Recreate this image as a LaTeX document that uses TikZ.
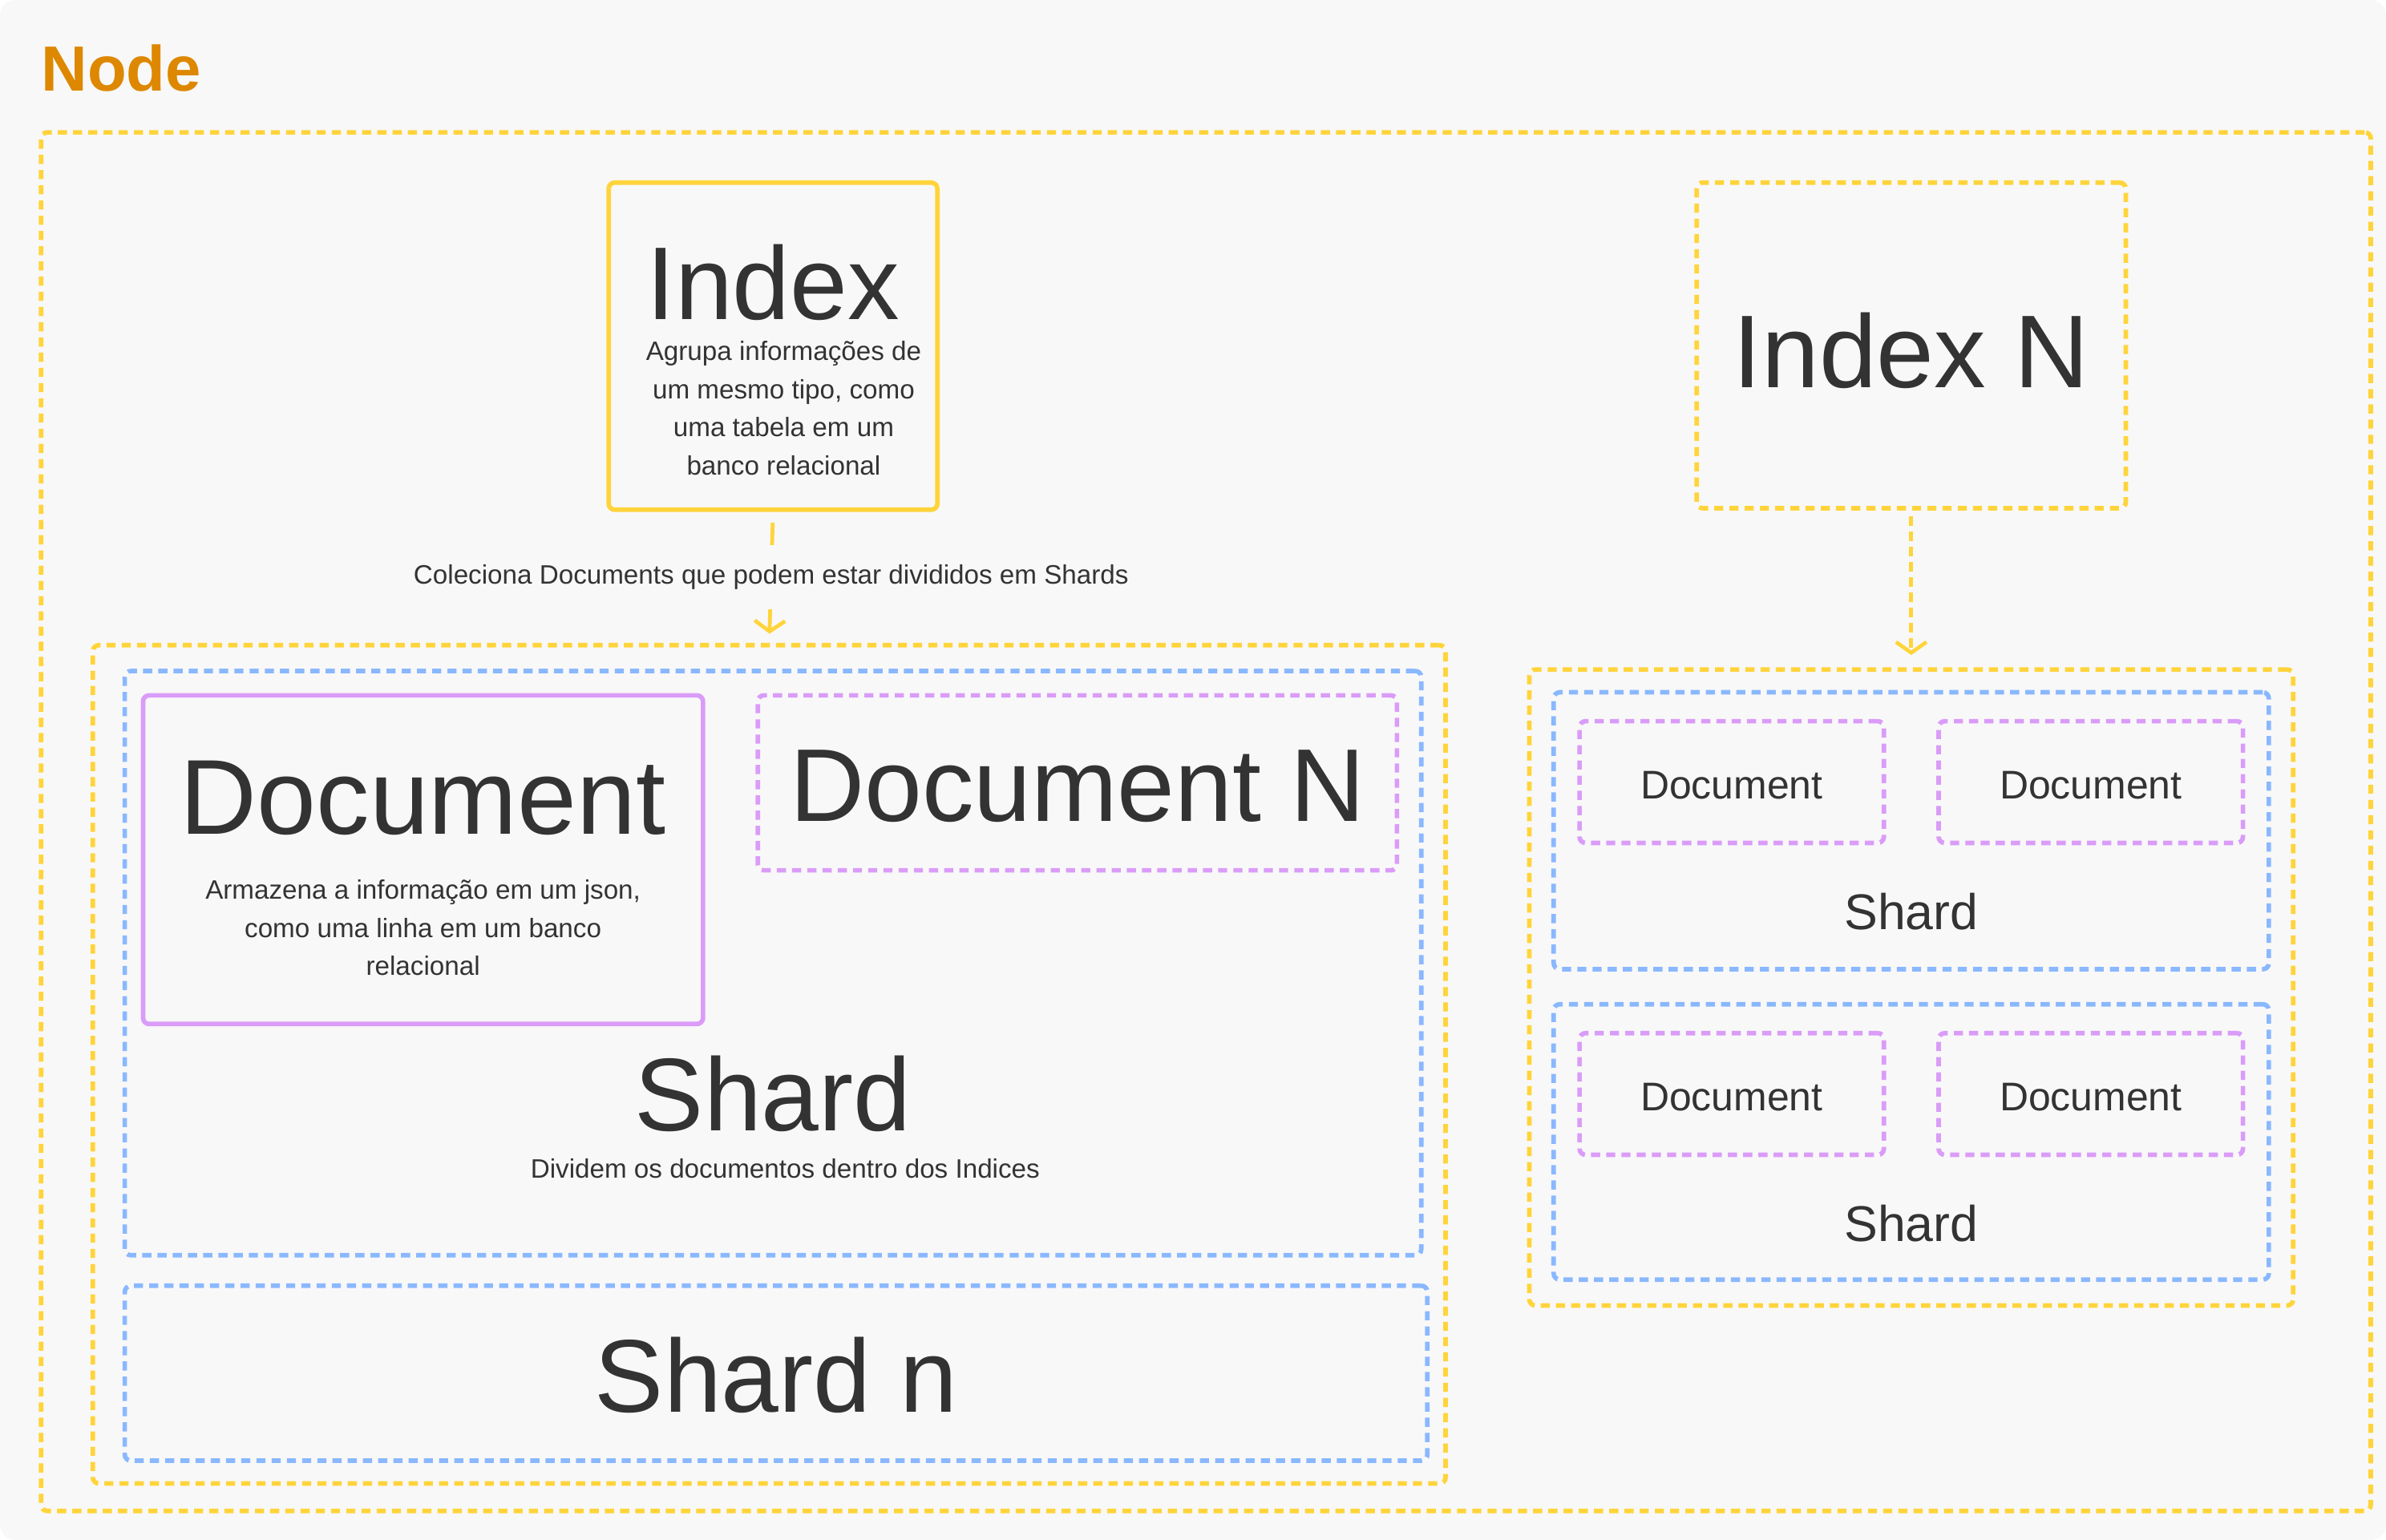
\documentclass[tikz,border=0pt]{standalone}
\usepackage{fontspec}
\setmainfont{Liberation Sans}
\usetikzlibrary{arrows.meta}
\definecolor{yel}{HTML}{FFD43B}
\definecolor{blu}{HTML}{8AB8FF}
\definecolor{pur}{HTML}{DA9CF8}
\definecolor{org}{HTML}{DD8800}
\definecolor{txt}{HTML}{333333}
\definecolor{bgc}{HTML}{F8F8F8}
\tikzset{
  frame/.style={line width=3pt, rounded corners=4pt, inner sep=0pt, rectangle},
  dashpat/.style={dash pattern=on 6pt off 4pt},
  ydash/.style={frame, draw=yel, dashpat},
  ysolid/.style={frame, draw=yel},
  bdash/.style={frame, draw=blu, dashpat},
  pdash/.style={frame, draw=pur, dashpat},
  psolid/.style={frame, draw=pur},
  bigtxt/.style={text=txt, inner sep=0pt, anchor=base, font=\fontsize{68}{80}\selectfont},
  smalltxt/.style={text=txt, inner sep=0pt, anchor=base, align=center, font=\fontsize{17.5}{25}\selectfont},
  doctxt/.style={text=txt, inner sep=0pt, anchor=base, font=\fontsize{26.3}{30}\selectfont},
  midtxt/.style={text=txt, inner sep=0pt, anchor=base, font=\fontsize{33}{38}\selectfont},
  conn/.style={draw=yel, line width=2.5pt, -{Straight Barb[length=7pt,width=20pt,line width=2.5pt]}},
}
\begin{document}
\begin{tikzpicture}[x=1pt,y=-1pt]
\useasboundingbox (0,0) rectangle (1568,1012);
\fill[white] (0,0) rectangle (1568,1012);
\fill[bgc, rounded corners=10pt] (0,0) rectangle (1568,1012);

\node[text=org, inner sep=0pt, anchor=base west, font=\bfseries\fontsize{42}{48}\selectfont] (nodelbl) at (27,60) {Node};

% boxes
\node[ydash, minimum width=1531pt, minimum height=906pt] (outer) at (792.5,540) {};
\node[ysolid, minimum width=216pt, minimum height=215pt] (index) at (508,227.5) {};
\node[ydash, minimum width=282pt, minimum height=214pt] (indexN) at (1256,227) {};
\node[ydash, minimum width=889pt, minimum height=551pt] (left) at (505.5,699.5) {};
\node[bdash, minimum width=852pt, minimum height=384pt] (shardA) at (508,633) {};
\node[psolid, minimum width=368pt, minimum height=216pt] (doc) at (278,565) {};
\node[pdash, minimum width=420pt, minimum height=115pt] (docN) at (708,514.5) {};
\node[bdash, minimum width=856pt, minimum height=115pt] (shardn) at (510,902.5) {};
\node[ydash, minimum width=502pt, minimum height=418pt] (right) at (1256,649) {};
\node[bdash, minimum width=470pt, minimum height=182pt] (rs1) at (1256,546) {};
\node[pdash, minimum width=200pt, minimum height=80pt] (rd11) at (1138,514) {};
\node[pdash, minimum width=200pt, minimum height=80pt] (rd12) at (1374,514) {};
\node[bdash, minimum width=470pt, minimum height=181pt] (rs2) at (1256,750.5) {};
\node[pdash, minimum width=200pt, minimum height=80pt] (rd21) at (1138,719) {};
\node[pdash, minimum width=200pt, minimum height=80pt] (rd22) at (1374,719) {};

% texts
\node[bigtxt] (indext) at (508,210) {Index};
\node[smalltxt] (indexd) at (515,312) {Agrupa informações de\\um mesmo tipo, como\\uma tabela em um\\banco relacional};
\node[bigtxt] (indexNt) at (1256,255) {Index N};
\node[bigtxt, font=\fontsize{70}{80}\selectfont] (doct) at (278,548) {Document};
\node[smalltxt] (docd) at (278,641) {Armazena a informação em um json,\\como uma linha em um banco\\relacional};
\node[bigtxt] (docNt) at (708,540) {Document N};
\node[bigtxt] (shardAt) at (508,743) {Shard};
\node[smalltxt] (shardAd) at (516,774) {Dividem os documentos dentro dos Indices};
\node[bigtxt] (shardnt) at (510,928) {Shard n};
\node[doctxt] (rd11t) at (1138,525) {Document};
\node[doctxt] (rd12t) at (1374,525) {Document};
\node[doctxt] (rd21t) at (1138,730) {Document};
\node[doctxt] (rd22t) at (1374,730) {Document};
\node[midtxt] (rs1t) at (1256,611) {Shard};
\node[midtxt] (rs2t) at (1256,816) {Shard};

% connectors
\draw[conn, shorten <=7pt, shorten >=6pt] (index.south) -- node[fill=bgc, text=txt, inner xsep=2pt, inner ysep=13pt, font=\fontsize{17.5}{20}\selectfont] (lbl) {Coleciona Documents que podem estar divididos em Shards} (left.north);
\draw[conn, dashpat, shorten <=4pt, shorten >=8pt] (indexN.south) -- (right.north);
\end{tikzpicture}
\end{document}
